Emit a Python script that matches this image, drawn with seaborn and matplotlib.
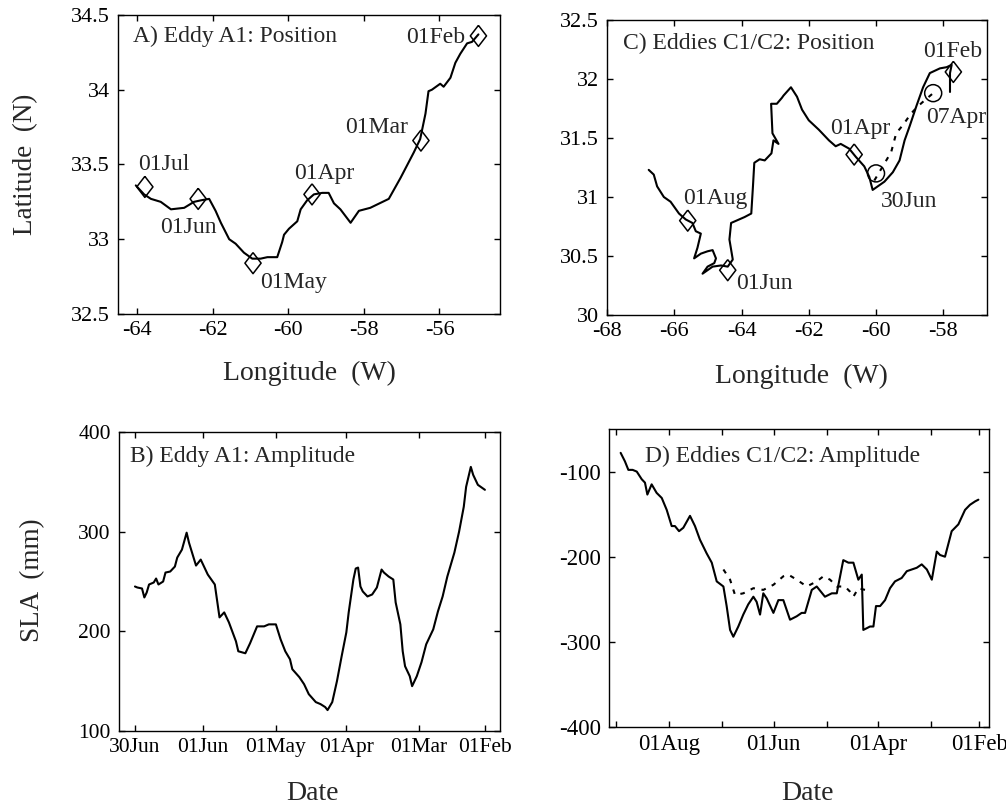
import numpy as np
import pandas as pd
import matplotlib
matplotlib.use("Agg")
import matplotlib.pyplot as plt
import matplotlib.dates as mdates
from matplotlib.ticker import FuncFormatter
import seaborn as sns

# ---------------- data: panel A (Eddy A1 track) ----------------
a_lon = [-64.03, -63.81, -63.63, -63.37, -63.10, -62.75, -62.49, -62.31, -62.09, -61.92,
         -61.78, -61.56, -61.39, -61.17, -60.95, -60.73, -60.55, -60.29, -60.16, -60.11,
         -59.98, -59.76, -59.67, -59.50, -59.32, -59.10, -58.93, -58.79, -58.62, -58.35,
         -58.13, -57.83, -57.34, -57.03, -56.68, -56.51, -56.37, -56.29, -56.20, -55.98,
         -55.89, -55.71, -55.58, -55.45, -55.27, -55.14, -54.97]
a_lat = [33.36, 33.30, 33.27, 33.25, 33.20, 33.21, 33.25, 33.26, 33.27, 33.19,
         33.11, 33.00, 32.97, 32.91, 32.87, 32.87, 32.88, 32.88, 32.98, 33.03,
         33.07, 33.12, 33.20, 33.26, 33.30, 33.31, 33.31, 33.24, 33.20, 33.11,
         33.19, 33.21, 33.27, 33.41, 33.58, 33.67, 33.84, 33.99, 34.00, 34.04,
         34.02, 34.08, 34.18, 34.24, 34.31, 34.32, 34.37]
a_mark_labels = ["01Jul", "01Jun", "01May", "01Apr", "01Mar", "01Feb"]
a_mark_lon = [-63.79, -62.38, -60.93, -59.37, -56.49, -54.97]
a_mark_lat = [33.35, 33.27, 32.84, 33.30, 33.66, 34.36]

# ---------------- data: panel C (Eddies C1/C2 tracks) ----------------
c1_lon = [-66.76, -66.61, -66.51, -66.31, -66.11, -65.86, -65.66, -65.46, -65.36, -65.21,
          -65.31, -65.41, -65.21, -65.01, -64.86, -64.76, -64.81, -65.01, -65.16, -64.86,
          -64.61, -64.41, -64.26, -64.36, -64.31, -63.91, -63.71, -63.66, -63.62, -63.46,
          -63.31, -63.11, -63.05, -62.90, -63.08, -63.12, -62.95, -62.80, -62.75, -62.53,
          -62.35, -62.20, -62.00, -61.70, -61.40, -61.20, -61.05, -60.80, -60.60, -60.35,
          -60.20, -60.10, -59.95, -59.75, -59.50, -59.30, -59.15, -59.00, -58.80, -58.60,
          -58.40, -58.10, -57.90, -57.75, -57.80, -57.80]
c1_lat = [31.23, 31.19, 31.09, 31.00, 30.96, 30.86, 30.81, 30.78, 30.71, 30.69,
          30.57, 30.48, 30.52, 30.54, 30.55, 30.48, 30.44, 30.41, 30.35, 30.41,
          30.42, 30.41, 30.47, 30.64, 30.78, 30.83, 30.86, 31.09, 31.29, 31.32,
          31.31, 31.37, 31.48, 31.45, 31.54, 31.79, 31.79, 31.84, 31.86, 31.93,
          31.85, 31.74, 31.65, 31.57, 31.48, 31.43, 31.45, 31.41, 31.34, 31.26,
          31.17, 31.06, 31.09, 31.13, 31.21, 31.31, 31.48, 31.60, 31.77, 31.93,
          32.05, 32.09, 32.10, 32.12, 32.05, 31.89]
c2_lon = [-60.05, -59.80, -59.55, -59.40, -59.20, -58.95, -58.75, -58.55, -58.30]
c2_lat = [31.14, 31.26, 31.38, 31.54, 31.61, 31.71, 31.77, 31.82, 31.88]
c_diam_labels = ["01Feb", "01Apr", "01Aug", "01Jun"]
c_diam_lon = [-57.70, -60.65, -65.60, -64.41]
c_diam_lat = [32.06, 31.36, 30.80, 30.38]
c_circ_labels = ["30Jun", "07Apr"]
c_circ_lon = [-60.00, -58.30]
c_circ_lat = [31.20, 31.88]

# ---------------- data: panel B (Eddy A1 amplitude) ----------------
b_days_before_30jun = [0, 1, 3, 4, 5, 6, 8, 9, 10, 12, 13, 15, 17, 18, 20, 22, 23, 26, 28, 31,
                       34, 36, 38, 40, 43, 44, 47, 49, 52, 55, 57, 60, 62, 64, 66, 67, 70, 72, 74, 77,
                       79, 81, 82, 84, 86, 88, 90, 91, 93, 94, 95, 96, 97, 99, 101, 103, 105, 106, 108, 110,
                       111, 113, 114, 115, 117, 118, 120, 122, 124, 127, 129, 131, 133, 136, 138, 140, 141,
                       143, 144, 146, 149]
b_sla = [245, 244, 243, 234, 239, 247, 249, 253, 247, 250, 259, 260, 265, 274, 282, 299, 289, 266, 272, 257,
         247, 214, 219, 209, 190, 180, 178, 188, 205, 205, 207, 207, 192, 180, 172, 162, 154, 147, 137, 129,
         127, 124, 121, 129, 150, 175, 199, 219, 252, 263, 264, 245, 240, 235, 237, 244, 262, 259, 255, 252,
         229, 207, 180, 165, 155, 145, 155, 169, 187, 202, 220, 235, 255, 279, 300, 325, 345,
         365, 357, 347, 342]
b_tick_labels = ["30Jun", "01Jun", "01May", "01Apr", "01Mar", "01Feb"]

# ---------------- data: panel D (Eddies C1/C2 amplitude) ----------------
d_c1_days_after_1feb = [209.3, 206.8, 204.8, 202.3, 199.9, 197.0, 195.1, 193.7, 191.2, 188.3,
                        185.3, 182.4, 179.5, 177.6, 175.2, 172.7, 168.8, 165.9, 163.0, 159.1,
                        156.1, 153.2, 149.3, 147.4, 145.4, 143.5, 140.6, 137.7, 134.8, 131.8,
                        129.9, 127.9, 126.0, 124.0, 120.1, 117.2, 114.3, 110.4, 106.5, 103.6,
                        101.6, 97.7, 94.8, 90.0, 86.0, 83.1, 79.3, 76.3, 73.4, 70.5,
                        68.5, 67.6, 65.6, 63.7, 61.7, 60.2, 57.8, 54.9, 52.0, 49.1,
                        45.2, 42.2, 39.3, 36.4, 33.5, 30.5, 27.6, 24.7, 22.8, 19.9,
                        16.0, 12.1, 8.2, 5.3, 2.3, 0.4]
d_c1_sla = [-78, -88, -98, -98, -100, -109, -113, -127, -115, -125,
            -131, -145, -164, -164, -170, -166, -152, -164, -180, -196,
            -207, -229, -235, -258, -286, -294, -282, -268, -256, -247,
            -253, -268, -243, -249, -266, -251, -251, -274, -270, -266,
            -266, -239, -235, -247, -243, -243, -204, -207, -207, -227,
            -221, -286, -284, -282, -282, -258, -258, -251, -237, -229,
            -225, -217, -215, -213, -209, -215, -227, -194, -198, -200,
            -170, -162, -145, -139, -135, -133]
d_c2_days_after_1feb = [149.3, 145.4, 142.5, 137.7, 131.8, 126.0, 120.1, 114.3, 111.4, 106.5,
                        100.6, 94.8, 90.9, 87.0, 83.1, 78.3, 75.4, 73.4, 70.5, 66.6]
d_c2_sla = [-215, -227, -245, -243, -237, -239, -233, -223, -221, -227,
            -235, -229, -223, -227, -235, -235, -241, -247, -237, -239]

YEAR = 1993
b_dates = pd.Timestamp(f"{YEAR}-06-30") - pd.to_timedelta(b_days_before_30jun, unit="D")
d_c1_dates = pd.Timestamp(f"{YEAR}-02-01") + pd.to_timedelta(d_c1_days_after_1feb, unit="D")
d_c2_dates = pd.Timestamp(f"{YEAR}-02-01") + pd.to_timedelta(d_c2_days_after_1feb, unit="D")

# ---------------- style ----------------
sns.set_theme(style="ticks")
plt.rcParams["font.family"] = ["Liberation Serif", "DejaVu Serif"]
plt.rcParams["axes.unicode_minus"] = False
plt.rcParams["axes.edgecolor"] = "black"
plt.rcParams["axes.linewidth"] = 1.0

LW = 1.5
TICK_FS = 16
ANN_FS = 17
TITLE_FS = 17
LABEL_FS = 19.5
diamond = [(0, 1), (0.77, 0), (0, -1), (-0.77, 0), (0, 1)]
dotted = (0, (2.2, 3.2))

fig = plt.figure(figsize=(10.06, 8.09), dpi=100)
axA = fig.add_axes([0.1173, 0.6119, 0.3797, 0.3696])
axC = fig.add_axes([0.6034, 0.6106, 0.3777, 0.3647])
axB = fig.add_axes([0.1183, 0.0964, 0.3787, 0.3696])
axD = fig.add_axes([0.6054, 0.1014, 0.3777, 0.3683])

fmt_g = FuncFormatter(lambda v, p: f"{v:g}")


def style_axes(ax, tick_fs=TICK_FS):
    for s in ax.spines.values():
        s.set_visible(True)
        s.set_color("black")
        s.set_linewidth(1.0)
    ax.tick_params(direction="in", length=4, width=1, top=True, right=True,
                   labelsize=tick_fs, colors="black")
    ax.tick_params(axis="y", pad=6)
    ax.tick_params(axis="x", pad=5)
    ax.set_xlabel("")
    ax.set_ylabel("")


# ---------------- Panel A ----------------
sns.lineplot(x=a_lon, y=a_lat, sort=False, estimator=None, color="black", lw=LW, ax=axA)
sns.scatterplot(x=a_mark_lon, y=a_mark_lat, marker=diamond, s=230, facecolor="none",
                edgecolor="black", linewidth=1.1, ax=axA, zorder=3)
a_text_pos = [(-63.97, 33.50, "left"), (-63.39, 33.08, "left"), (-60.75, 32.71, "left"),
              (-59.83, 33.44, "left"), (-58.49, 33.75, "left"), (-55.32, 34.35, "right")]
for lab, (tx, ty, ha) in zip(a_mark_labels, a_text_pos):
    axA.text(tx, ty, lab, ha=ha, va="center", fontsize=ANN_FS)
axA.set_xlim(-64.5, -54.4)
axA.set_ylim(32.5, 34.5)
axA.set_xticks([-64, -62, -60, -58, -56])
axA.set_yticks([32.5, 33, 33.5, 34, 34.5])
axA.xaxis.set_major_formatter(fmt_g)
axA.yaxis.set_major_formatter(fmt_g)
style_axes(axA)
axA.text(0.039, 0.928, "A) Eddy A1: Position", transform=axA.transAxes,
         ha="left", va="center", fontsize=TITLE_FS)

# ---------------- Panel C ----------------
sns.lineplot(x=c1_lon, y=c1_lat, sort=False, estimator=None, color="black", lw=LW, ax=axC)
sns.lineplot(x=c2_lon, y=c2_lat, sort=False, estimator=None, color="black", lw=LW,
             linestyle=dotted, ax=axC)
sns.scatterplot(x=c_diam_lon, y=c_diam_lat, marker=diamond, s=230, facecolor="none",
                edgecolor="black", linewidth=1.1, ax=axC, zorder=3)
sns.scatterplot(x=c_circ_lon, y=c_circ_lat, marker="o", s=150, facecolor="none",
                edgecolor="black", linewidth=1.1, ax=axC, zorder=3)
c_text_pos = [(-58.60, 32.23), (-61.36, 31.58), (-65.75, 30.99), (-64.16, 30.27)]
for lab, (tx, ty) in zip(c_diam_labels, c_text_pos):
    axC.text(tx, ty, lab, ha="left", va="center", fontsize=ANN_FS)
c_circ_text_pos = [(-59.86, 30.96), (-58.51, 31.67)]
for lab, (tx, ty) in zip(c_circ_labels, c_circ_text_pos):
    axC.text(tx, ty, lab, ha="left", va="center", fontsize=ANN_FS)
axC.set_xlim(-68, -56.7)
axC.set_ylim(30, 32.5)
axC.set_xticks([-68, -66, -64, -62, -60, -58])
axC.set_yticks([30, 30.5, 31, 31.5, 32, 32.5])
axC.xaxis.set_major_formatter(fmt_g)
axC.yaxis.set_major_formatter(fmt_g)
style_axes(axC)
axC.text(0.042, 0.922, "C) Eddies C1/C2: Position", transform=axC.transAxes,
         ha="left", va="center", fontsize=TITLE_FS)

# ---------------- Panel B ----------------
sns.lineplot(x=b_dates, y=b_sla, sort=False, estimator=None, color="black", lw=LW, ax=axB)
b_ticks = [pd.Timestamp(f"{YEAR}-{m}") for m in ["06-30", "06-01", "05-01", "04-01", "03-01", "02-01"]]
axB.set_xticks(b_ticks)
axB.set_xticklabels(b_tick_labels)
axB.set_xlim(pd.Timestamp(f"{YEAR}-07-06 19:00"), pd.Timestamp(f"{YEAR}-01-25 14:00"))
axB.set_ylim(100, 400)
axB.set_yticks([100, 200, 300, 400])
style_axes(axB, tick_fs=15.5)
axB.text(0.029, 0.92, "B) Eddy A1: Amplitude", transform=axB.transAxes,
         ha="left", va="center", fontsize=TITLE_FS)

# ---------------- Panel D ----------------
sns.lineplot(x=d_c1_dates, y=d_c1_sla, sort=False, estimator=None, color="black", lw=LW, ax=axD)
sns.lineplot(x=d_c2_dates, y=d_c2_sla, sort=False, estimator=None, color="black", lw=LW,
             linestyle=dotted, ax=axD)
d_ticks = [pd.Timestamp(f"{YEAR}-{m:02d}-01") for m in range(2, 10)]
axD.set_xticks(d_ticks)
axD.set_xticklabels([t.strftime("%d%b") if t.month % 2 == 0 else "" for t in d_ticks])
axD.set_xlim(pd.Timestamp(f"{YEAR}-09-05 02:00"), pd.Timestamp(f"{YEAR}-01-26 05:00"))
axD.set_ylim(-400, -50)
axD.set_yticks([-400, -300, -200, -100])
style_axes(axD, tick_fs=16.5)
axD.text(0.095, 0.909, "D) Eddies C1/C2: Amplitude", transform=axD.transAxes,
         ha="left", va="center", fontsize=TITLE_FS)

# ---------------- axis labels ----------------
W, H = 1006, 809
fig.text(26 / W, 1 - 164 / H, "Latitude  (N)", rotation=90, ha="center", va="center", fontsize=LABEL_FS)
fig.text(33 / W, 1 - 580 / H, "SLA  (mm)", rotation=90, ha="center", va="center", fontsize=LABEL_FS)
fig.text(309 / W, 1 - 373 / H, "Longitude  (W)", ha="center", va="center", fontsize=20)
fig.text(801 / W, 1 - 376 / H, "Longitude  (W)", ha="center", va="center", fontsize=20)
fig.text(312 / W, 1 - 794 / H, "Date", ha="center", va="center", fontsize=20)
fig.text(807 / W, 1 - 794 / H, "Date", ha="center", va="center", fontsize=20)

fig.savefig("out.png", dpi=100, facecolor="white")
